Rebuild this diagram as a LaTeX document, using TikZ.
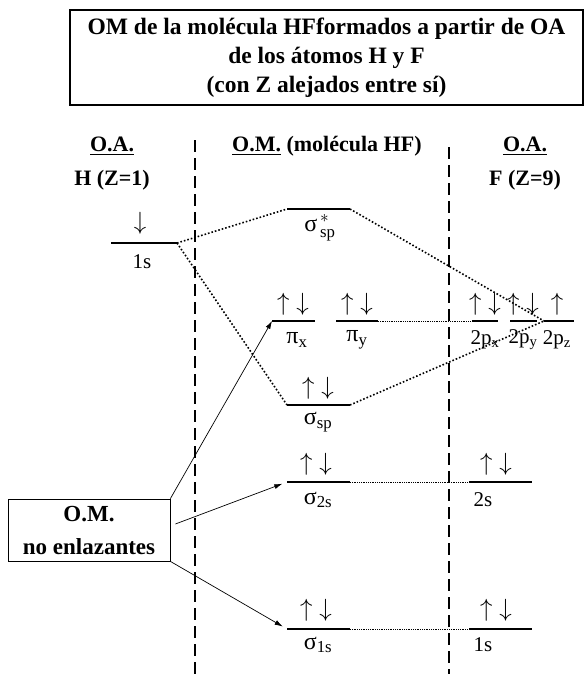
\documentclass[tikz,border=0pt]{standalone}
\usepackage{amsmath}
\usepackage{fontspec}
\setmainfont{Liberation Serif}
\usetikzlibrary{arrows.meta}
\newcommand\lev[4]{\coordinate (#1L) at (#2,#4); \coordinate (#1R) at (#3,#4); \draw[lvl] (#1L) -- (#1R);}
\newcommand\ud{$\uparrow\;\downarrow$}
\begin{document}
\begin{tikzpicture}[x=1pt,y=-1pt,
 lvl/.style={line width=1.6pt},
 conn/.style={dotted, line width=1.6pt},
 hconn/.style={densely dotted, line width=0.8pt},
 sep/.style={dash pattern=on 12pt off 6pt, line width=1.6pt},
 ptr/.style={-{Latex[length=8pt,width=5pt]}, line width=0.7pt},
 lbl/.style={font=\fontsize{21}{24}\selectfont, inner sep=0pt},
 glbl/.style={font=\fontsize{24}{26}\selectfont, inner sep=0pt},
 hdr/.style={font=\fontsize{22}{26}\selectfont\bfseries, inner sep=0pt, align=center},
 big/.style={font=\fontsize{23.5}{29}\selectfont\bfseries, inner sep=0pt, align=center},
 el/.style={font=\fontsize{24}{26}\selectfont, inner sep=0pt, anchor=south}]
\useasboundingbox (0,0) rectangle (586,674);
\fill[white] (0,0) rectangle (586,674);
% title
\node[draw, line width=2.5pt, minimum width=513pt, minimum height=95pt, big] (title) at (326.5,57.5)
  {OM de la molécula HFformados a partir de OA\\de los átomos H y F\\(con Z alejados entre sí)};
% headers
\node[hdr] (oaH) at (112,146) {\underline{O.A.}};
\node[hdr] (hZ) at (112,180) {H (Z=1)};
\node[hdr, anchor=west] (om) at (232,146) {\underline{O.M.} (molécula HF)};
\node[hdr] (oaF) at (525,146) {\underline{O.A.}};
\node[hdr] (fZ) at (525,180) {F (Z=9)};
% separators
\coordinate (sepAt) at (195,140); \coordinate (sepAb) at (195,674);
\coordinate (sepBt) at (449,147); \coordinate (sepBb) at (449,674);
\draw[sep] (sepAt) -- (sepAb);
\draw[sep] (sepBt) -- (sepBb);
% levels
\lev{hs}{111}{177}{243}
\lev{sst}{287}{350}{209}
\lev{pix}{272}{315}{321}
\lev{piy}{336}{378}{321}
\lev{ssp}{287}{350}{405}
\lev{stw}{287}{350}{482}
\lev{son}{287}{350}{629}
\lev{px}{472}{498}{321}
\lev{py}{510}{537}{321}
\lev{pz}{544}{574}{321}
\lev{ftw}{469}{532}{482}
\lev{fon}{469}{532}{629}
% connectors
\draw[conn] (hsR) -- (sstL);
\draw[conn] (hsR) -- (sspL);
\draw[conn] (sstR) -- (pzL);
\draw[conn] (sspR) -- (pzL);
\draw[hconn] (piyR) -- (pxL);
\draw[hconn] (stwR) -- (ftwL);
\draw[hconn] (sonR) -- (fonL);
% electrons
\node[el] (ehs) at (140,235) {$\downarrow$};
\node[el] (epix) at (293,316) {\ud};
\node[el] (epiy) at (357,316) {\ud};
\node[el] (essp) at (318,400) {\ud};
\node[el] (estw) at (316,476) {\ud};
\node[el] (eson) at (316,622) {\ud};
\node[el] (epx) at (485,316) {\ud};
\node[el] (epy) at (523,316) {\ud};
\node[el] (epz) at (557,316) {$\uparrow$};
\node[el] (eftw) at (496,476) {\ud};
\node[el] (efon) at (496,622) {\ud};
% labels
\node[lbl] (lhs) at (142,262) {1s};
\node[glbl] (lsst) at (320,228) {$\text{σ}^{\,*}_{\,\text{sp}}$};
\node[glbl] (lpix) at (297,340) {$\text{π}_{\text{x}}$};
\node[glbl] (lpiy) at (357,340) {$\text{π}_{\text{y}}$};
\node[glbl] (lssp) at (318,422) {$\text{σ}_{\text{sp}}$};
\node[glbl] (lstw) at (318,500) {$\text{σ}_{\text{2s}}$};
\node[glbl] (lson) at (318,645) {$\text{σ}_{\text{1s}}$};
\node[lbl] (lpx) at (485,340) {2p$_{\text{x}}$};
\node[lbl] (lpy) at (523,340) {2p$_{\text{y}}$};
\node[lbl] (lpz) at (557,340) {2p$_{\text{z}}$};
\node[lbl] (lftw) at (483,500) {2s};
\node[lbl] (lfon) at (483,645) {1s};
% non-bonding box
\node[draw, line width=0.8pt, minimum width=162pt, minimum height=62pt, big, font=\fontsize{23}{33}\selectfont\bfseries] (omb) at (89,530) {O.M.\\no enlazantes};
\draw[ptr] (omb.north east) -- (pixL);
\draw[ptr, shorten >=5pt] ([xshift=5pt,yshift=6pt]omb.east) -- (stwL);
\draw[ptr, shorten >=5pt] (omb.south east) -- (sonL);
\end{tikzpicture}
\end{document}
